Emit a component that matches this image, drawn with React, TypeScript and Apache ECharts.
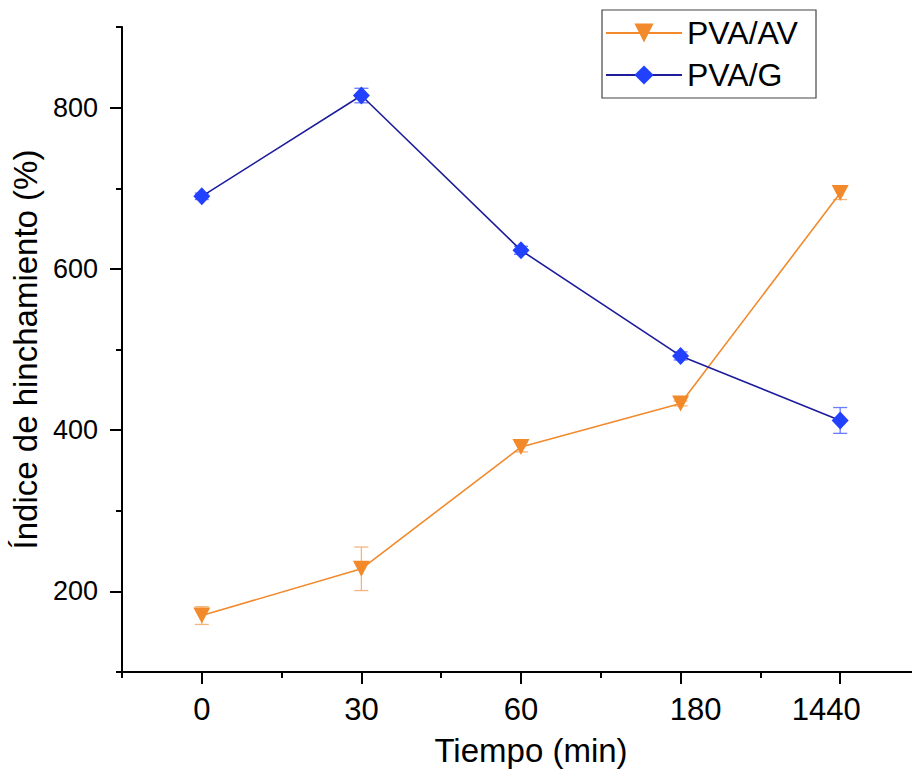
import React, { useEffect, useRef } from "react";
import * as echarts from "echarts";

const categories = ["0", "30", "60", "180", "1440"];
const pvaAV = [170, 228, 379, 433, 694];
const pvaAVErr = [11, 27, 6, 3, 8];
const pvaG = [690, 815, 623, 492, 412];
const pvaGErr = [4, 9, 5, 5, 16];
const yMajorTicks = [200, 400, 600, 800];
const yMinorTicks = [100, 300, 500, 700, 900];
const xMinorTicks = [-0.5, 0.5, 1.5, 2.5, 3.5];

const FONT = "'Liberation Sans', Arial, sans-serif";
const ORANGE = "#F28A2C";
const ORANGE_ERR = "#F3B57C";
const BLUE_LINE = "#1C1C9C";
const BLUE_MARK = "#2141FF";
const BLUE_ERR = "#6B7BFF";

function errData(vals: number[], errs: number[]) {
  return vals.map((v, i) => [i, v - errs[i], v + errs[i]]);
}

function errRender(color: string) {
  return (params: any, api: any) => {
    const x = api.value(0);
    const top = api.coord([x, api.value(2)]);
    const bot = api.coord([x, api.value(1)]);
    const cap = 7;
    const style = { stroke: color, lineWidth: 1.3 };
    return {
      type: "group",
      children: [
        { type: "line", shape: { x1: top[0], y1: top[1], x2: bot[0], y2: bot[1] }, style },
        { type: "line", shape: { x1: top[0] - cap, y1: top[1], x2: top[0] + cap, y2: top[1] }, style },
        { type: "line", shape: { x1: bot[0] - cap, y1: bot[1], x2: bot[0] + cap, y2: bot[1] }, style },
      ],
    };
  };
}

export default function App() {
  const ref = useRef<HTMLDivElement>(null);
  useEffect(() => {
    const chart = echarts.init(ref.current!, null, { renderer: "svg" });
    const axisLine = { show: true, onZero: false, lineStyle: { color: "#000", width: 2 } };
    chart.setOption({
      animation: false,
      backgroundColor: "#fff",
      grid: { left: 122, right: 0, top: 27, bottom: 102, containLabel: false },
      legend: {
        data: ["PVA/AV", "PVA/G"],
        orient: "vertical",
        left: 600,
        top: 12,
        itemWidth: 76,
        itemHeight: 24,
        itemGap: 10,
        textStyle: { fontSize: 32, fontFamily: FONT, color: "#000", lineHeight: 32 },
      },
      graphic: [
        {
          type: "rect",
          shape: { x: 602, y: 10, width: 214, height: 88 },
          style: { fill: "none", stroke: "#444", lineWidth: 1.2 },
          z: 10,
        },
      ],
      xAxis: [
        {
          type: "value",
          min: -0.5,
          max: 4.45,
          position: "bottom",
          axisLine,
          splitLine: { show: false },
          axisTick: { show: true, customValues: [0, 1, 2, 3, 4], length: 12, lineStyle: { color: "#000", width: 2 } },
          axisLabel: {
            customValues: [0, 1, 2, 3, 4],
            margin: 22,
            fontSize: 31,
            fontFamily: FONT,
            color: "#000",
            formatter: (v: number) => {
              const i = Math.round(v);
              if (i === 3) return "{s|" + categories[i] + "}";
              if (i === 4) return "{t|" + categories[i] + "}";
              return categories[i] ?? "";
            },
            rich: {
              s: { fontSize: 31, fontFamily: FONT, color: "#000", padding: [0, 0, 0, 30] },
              t: { fontSize: 31, fontFamily: FONT, color: "#000", padding: [0, 28, 0, 0] },
            },
          },
          name: "Tiempo (min)",
          nameLocation: "middle",
          nameGap: 62,
          nameTextStyle: { fontSize: 33, fontFamily: FONT, color: "#000", padding: [0, 0, 0, 28] },
        },
        {
          type: "value",
          min: -0.5,
          max: 4.45,
          position: "bottom",
          axisLine: { show: false, onZero: false },
          splitLine: { show: false },
          axisLabel: { show: false },
          axisTick: { show: true, customValues: xMinorTicks, length: 6, lineStyle: { color: "#000", width: 2 } },
        },
      ],
      yAxis: [
        {
          type: "value",
          min: 100,
          max: 900,
          position: "left",
          axisLine,
          splitLine: { show: false },
          axisTick: { show: true, customValues: yMajorTicks, length: 12, lineStyle: { color: "#000", width: 2 } },
          axisLabel: {
            customValues: yMajorTicks,
            margin: 24,
            fontSize: 27,
            fontFamily: FONT,
            color: "#000",
          },
          name: "Índice de hinchamiento (%)",
          nameLocation: "middle",
          nameGap: 78,
          nameTextStyle: { fontSize: 33, fontFamily: FONT, color: "#000" },
        },
        {
          type: "value",
          min: 100,
          max: 900,
          position: "left",
          axisLine: { show: false, onZero: false },
          splitLine: { show: false },
          axisLabel: { show: false },
          axisTick: { show: true, customValues: yMinorTicks, length: 6, lineStyle: { color: "#000", width: 2 } },
        },
      ],
      series: [
        {
          name: "errAV",
          type: "custom",
          xAxisIndex: 0,
          yAxisIndex: 0,
          renderItem: errRender(ORANGE_ERR),
          data: errData(pvaAV, pvaAVErr),
          z: 1,
        },
        {
          name: "errG",
          type: "custom",
          xAxisIndex: 0,
          yAxisIndex: 0,
          renderItem: errRender(BLUE_ERR),
          data: errData(pvaG, pvaGErr),
          z: 1,
        },
        {
          name: "PVA/AV",
          type: "line",
          xAxisIndex: 0,
          yAxisIndex: 0,
          data: pvaAV.map((v, i) => [i, v]),
          symbol: "triangle",
          symbolRotate: 180,
          symbolSize: [17, 16],
          lineStyle: { color: ORANGE, width: 1.6 },
          itemStyle: { color: ORANGE },
          z: 3,
        },
        {
          name: "PVA/G",
          type: "line",
          xAxisIndex: 0,
          yAxisIndex: 0,
          data: pvaG.map((v, i) => [i, v]),
          symbol: "diamond",
          symbolSize: [17, 18],
          lineStyle: { color: BLUE_LINE, width: 1.6 },
          itemStyle: { color: BLUE_MARK },
          z: 3,
        },
      ],
    });
    return () => chart.dispose();
  }, []);
  return (
    <div
      ref={ref}
      style={{ position: "absolute", left: 0, top: 0, width: 912, height: 774 }}
    />
  );
}
